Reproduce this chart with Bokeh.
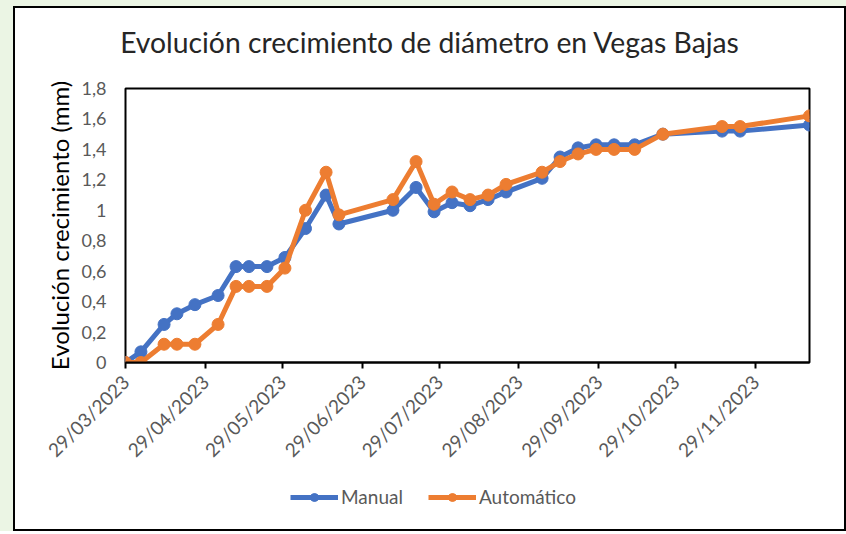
import pandas as pd
from bokeh.plotting import figure
from bokeh.layouts import column
from bokeh.models import (FixedTicker, DatetimeTickFormatter, Legend, LegendItem,
                          Range1d, ColumnDataSource, Div)
from bokeh.embed import file_html
from bokeh.resources import INLINE

# ---- data ----
dates = ["2023-03-29", "2023-04-04", "2023-04-13", "2023-04-18", "2023-04-25",
         "2023-05-04", "2023-05-11", "2023-05-16", "2023-05-23", "2023-05-30",
         "2023-06-07", "2023-06-15", "2023-06-20", "2023-07-11", "2023-07-20",
         "2023-07-27", "2023-08-03", "2023-08-10", "2023-08-17", "2023-08-24",
         "2023-09-07", "2023-09-14", "2023-09-21", "2023-09-28", "2023-10-05",
         "2023-10-13", "2023-10-24", "2023-11-16", "2023-11-23", "2023-12-20"]
manual = [0, 0.07, 0.25, 0.32, 0.38, 0.44, 0.63, 0.63, 0.63, 0.69,
          0.88, 1.10, 0.91, 1.00, 1.15, 0.99, 1.05, 1.03, 1.07, 1.12,
          1.21, 1.35, 1.41, 1.43, 1.43, 1.43, 1.50, 1.52, 1.52, 1.56]
automatico = [0, 0, 0.12, 0.12, 0.12, 0.25, 0.50, 0.50, 0.50, 0.62,
              1.00, 1.25, 0.97, 1.07, 1.32, 1.04, 1.12, 1.07, 1.10, 1.17,
              1.25, 1.32, 1.37, 1.40, 1.40, 1.40, 1.50, 1.55, 1.55, 1.62]
x_tick_dates = ["2023-03-29", "2023-04-29", "2023-05-29", "2023-06-29", "2023-07-29",
                "2023-08-29", "2023-09-29", "2023-10-29", "2023-11-29"]
y_ticks = [0, 0.2, 0.4, 0.6, 0.8, 1.0, 1.2, 1.4, 1.6, 1.8]
y_tick_labels = ["0", "0,2", "0,4", "0,6", "0,8", "1", "1,2", "1,4", "1,6", "1,8"]
title_text = "Evolución crecimiento de diámetro en Vegas Bajas"
y_label = "Evolución crecimiento (mm)"
series_names = ["Manual", "Automático"]

BLUE = "#4472C4"
ORANGE = "#ED7D31"
FONT = "Lato"
GRAY = "#595959"

x = pd.to_datetime(dates)
src = ColumnDataSource(dict(x=x, manual=manual, auto=automatico))

xmin = pd.Timestamp(dates[0])
xmax = pd.Timestamp(dates[-1])

W = 829
H_TITLE = 68
H_MAIN = 402
H_LEG = 51

title = Div(text=title_text, width=W, height=H_TITLE, margin=0,
            styles={"font-family": "Lato", "font-size": "28.3px", "color": "#262626",
                    "text-align": "center", "line-height": "68px",
                    "background-color": "white", "white-space": "nowrap"})

p = figure(width=W, height=H_MAIN, output_backend="svg", toolbar_location=None,
           x_axis_type="datetime",
           x_range=Range1d(xmin, xmax), y_range=Range1d(0, 1.8),
           min_border_left=110, min_border_right=35, min_border_top=12,
           min_border_bottom=116)
p.background_fill_color = "white"
p.border_fill_color = "white"
p.outline_line_color = "black"
p.outline_line_width = 2
p.grid.visible = False

# axes
xa = p.xaxis[0]
xa.ticker = FixedTicker(ticks=[pd.Timestamp(d).value / 1e6 for d in x_tick_dates])
fmt = "%d/%m/%Y"
xa.formatter = DatetimeTickFormatter(milliseconds=fmt, seconds=fmt, minsec=fmt, minutes=fmt,
                                     hourmin=fmt, hours=fmt, days=fmt, months=fmt, years=fmt)
xa.major_label_orientation = 0.785398
xa.major_label_text_font = FONT
xa.major_label_text_font_size = "19px"
xa.major_label_text_color = GRAY
xa.axis_line_color = "black"
xa.axis_line_width = 2
xa.major_tick_line_color = "black"
xa.major_tick_line_width = 2
xa.major_tick_in = 0
xa.major_tick_out = 6
xa.minor_tick_line_color = None
xa.major_label_standoff = 10

ya = p.yaxis[0]
ya.ticker = FixedTicker(ticks=y_ticks)
ya.major_label_overrides = {t: l for t, l in zip(y_ticks, y_tick_labels)}
ya.major_label_text_font = FONT
ya.major_label_text_font_size = "18px"
ya.major_label_text_color = GRAY
ya.axis_line_color = None
ya.major_tick_line_color = None
ya.minor_tick_line_color = None
ya.major_tick_in = 0
ya.major_tick_out = 0
ya.major_label_standoff = 19
ya.axis_label = y_label
ya.axis_label_text_font = FONT
ya.axis_label_text_font_size = "24px"
ya.axis_label_text_font_style = "normal"
ya.axis_label_text_color = "#000000"
ya.axis_label_standoff = 5

# series
p.line("x", "manual", source=src, line_color=BLUE, line_width=5)
p.scatter("x", "manual", source=src, size=12, fill_color=BLUE, line_color=BLUE)
p.line("x", "auto", source=src, line_color=ORANGE, line_width=5)
p.scatter("x", "auto", source=src, size=12, fill_color=ORANGE, line_color=ORANGE)

# legend strip (same series; the data fall outside this strip's ranges, so only the legend shows)
q = figure(width=W, height=H_LEG, output_backend="svg", toolbar_location=None,
           x_axis_location=None, y_axis_location=None,
           x_range=Range1d(0, 1), y_range=Range1d(0, 1),
           min_border_left=0, min_border_right=0, min_border_top=0, min_border_bottom=0)
q.grid.visible = False
q.outline_line_color = None
q.background_fill_color = "white"
q.border_fill_color = "white"
l1 = q.line("x", "manual", source=src, line_color=BLUE, line_width=5)
s1 = q.scatter("x", "manual", source=src, size=12, fill_color=BLUE, line_color=BLUE)
l2 = q.line("x", "auto", source=src, line_color=ORANGE, line_width=5)
s2 = q.scatter("x", "auto", source=src, size=12, fill_color=ORANGE, line_color=ORANGE)

legend = Legend(items=[LegendItem(label=series_names[0], renderers=[l1, s1]),
                       LegendItem(label=series_names[1], renderers=[l2, s2])],
                orientation="horizontal", location=(165, 21),
                glyph_width=48, glyph_height=20, label_standoff=3, spacing=25,
                padding=0, margin=0, border_line_color=None,
                background_fill_alpha=0,
                label_text_font=FONT, label_text_font_size="19px",
                label_text_color=GRAY)
q.add_layout(legend, "center")

inner = column(title, p, q, spacing=0,
               styles={"border": "2px solid black", "background-color": "white"})
outer = column(inner, spacing=0,
               styles={"background-color": "#EBF5E4", "padding": "6px 0px 0px 13px"})

open("out.html", "w").write(file_html(outer, INLINE))
